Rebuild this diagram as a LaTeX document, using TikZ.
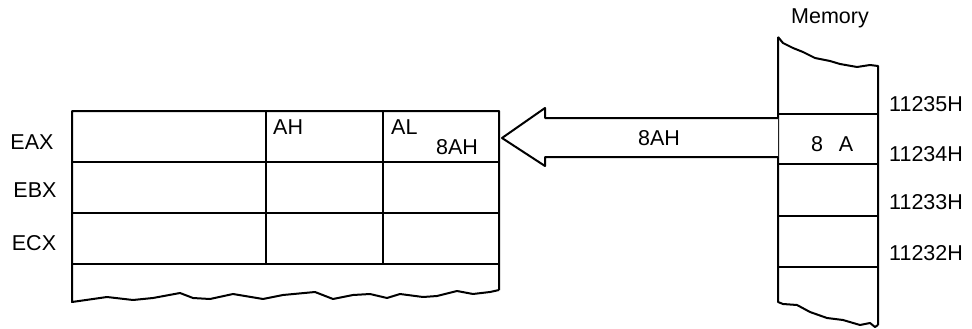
\documentclass[tikz,border=0pt]{standalone}
\usepackage{fontspec}
\setmainfont{Liberation Sans}
\begin{document}
\begin{tikzpicture}[x=1pt,y=-1pt,
  box/.style={line width=2pt,line join=round},
  lbl/.style={inner sep=0pt,font=\fontsize{21.5}{24}\selectfont},
  addr/.style={lbl,anchor=west}]
\useasboundingbox (0,0) rectangle (972,329);
% register block
\draw[box] (499,290) -- (499,111) -- (72,111) -- (72,302)
  -- (107,297) -- (133,300) -- (153,298) -- (180,293) -- (193,298) -- (210,299)
  -- (233,294) -- (263,299) -- (283,295) -- (315,292) -- (333,299) -- (353,295)
  -- (370,294) -- (387,298) -- (400,294) -- (423,297) -- (437,296) -- (457,291)
  -- (473,294) -- (490,292) -- (499,290);
\foreach \y in {162,213,264} \draw[box] (72,\y) -- (499,\y);
\draw[box] (266,111) -- (266,264);
\draw[box] (383,111) -- (383,264);
\node[lbl] (eax) at (32,142) {EAX};
\node[lbl] (ebx) at (35,190) {EBX};
\node[lbl] (ecx) at (34,243) {ECX};
\node[lbl,anchor=west] (ah) at (273,127) {AH};
\node[lbl,anchor=west] (al) at (391,127) {AL};
\node[lbl] (al8) at (457,147) {8AH};
% memory
\draw[box] (778,37) -- (783,43) -- (793,48) -- (803,52) -- (815,58) -- (830,61)
  -- (840,64) -- (857,67) -- (870,65) -- (878,66) -- (878,325);
\draw[box] (778,37) -- (778,302) -- (783,304) -- (797,305) -- (810,312) -- (827,318)
  -- (843,320) -- (860,325) -- (870,323) -- (875,327) -- (878,325);
\foreach \y in {114,164,216,267} \draw[box] (778,\y) -- (878,\y);
\node[lbl] (mem) at (830,18) {Memory};
\node[lbl] (m8) at (817,144) {8};
\node[lbl] (mA) at (846,144) {A};
\node[addr] (a5) at (889,104) {11235H};
\node[addr] (a4) at (889,154) {11234H};
\node[addr] (a3) at (889,202) {11233H};
\node[addr] (a2) at (889,253) {11232H};
% block arrow
\coordinate (src) at (778,138);
\coordinate (tip) at (502,138);
\draw[box,fill=white] (src |- 0,118) -- (545,118) -- (545,108) -- (tip) -- (545,166)
  -- (545,157) -- (src |- 0,157);
\node[lbl] (mv) at (659,138) {8AH};
\end{tikzpicture}
\end{document}
